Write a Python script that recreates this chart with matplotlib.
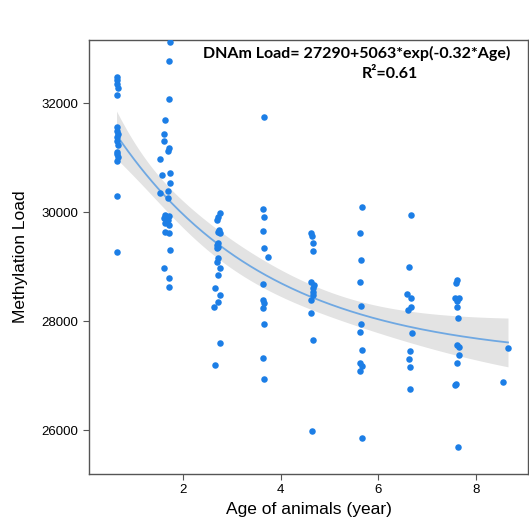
import numpy as np
import matplotlib.pyplot as plt

# fitted model shown on the chart
FIT_A = 27290
FIT_B = 5063
FIT_C = -0.32
R2 = 0.61

# age (years) and methylation load
age = [
    # ~0.65
    0.64, 0.65, 0.64, 0.66, 0.65, 0.65, 0.64, 0.66, 0.65, 0.64, 0.66, 0.65, 0.64, 0.66, 0.65, 0.64, 0.65,
    # ~1.7
    1.74, 1.71, 1.71, 1.63, 1.62, 1.62, 1.71, 1.70, 1.53, 1.57, 1.74, 1.74, 1.53, 1.70, 1.70,
    1.63, 1.72, 1.61, 1.70, 1.63, 1.72, 1.63, 1.72, 1.73, 1.62, 1.71, 1.71,
    # ~2.7
    2.76, 2.72, 2.69, 2.74, 2.71, 2.76, 2.71, 2.69, 2.72, 2.69, 2.72, 2.69, 2.76, 2.71, 2.66,
    2.76, 2.71, 2.64, 2.76, 2.66,
    # ~3.7
    3.67, 3.65, 3.66, 3.65, 3.67, 3.74, 3.65, 3.65, 3.67, 3.65, 3.67, 3.65, 3.67,
    # ~4.65
    4.63, 4.64, 4.66, 4.67, 4.63, 4.68, 4.67, 4.66, 4.66, 4.63, 4.63, 4.66, 4.64,
    # ~5.65
    5.66, 5.62, 5.65, 5.62, 5.65, 5.64, 5.62, 5.66, 5.63, 5.67, 5.62, 5.66,
    # ~6.65
    6.68, 6.64, 6.60, 6.68, 6.67, 6.61, 6.69, 6.65, 6.63, 6.66, 6.66,
    # ~7.6
    7.61, 7.60, 7.57, 7.61, 7.65, 7.62, 7.64, 7.62, 7.65, 7.66, 7.61, 7.60, 7.57, 7.64,
    # ~8.6
    8.66, 8.56,
]

load = [
    32472, 32422, 32349, 32270, 32147, 31565, 31492, 31431, 31371, 31308, 31229, 31106, 31059, 31004, 30941,
    30293, 29266,
    33125, 32776, 32068, 31688, 31431, 31303, 31169, 31125, 30967, 30684, 30721, 30526, 30343, 30391, 30257,
    29945, 29932, 29884, 29853, 29792, 29761, 29638, 29620, 29303, 28972, 28783, 28629,
    29976, 29914, 29853, 29670, 29638, 29609, 29437, 29394, 29363, 29334, 29150, 29088, 28967, 28844, 28600,
    28477, 28354, 28262, 27591, 27192,
    31738, 30049, 29914, 29651, 29334, 29180, 28673, 28385, 28324, 28233, 27939, 27315, 26930,
    29609, 29560, 29437, 29290, 28721, 28660, 28600, 28532, 28477, 28385, 28152, 27651, 25987,
    30097, 29609, 29119, 28710, 28280, 27945, 27792, 27470, 27234, 27180, 27088, 25858,
    29945, 28985, 28490, 28416, 28262, 28201, 27774, 27448, 27295, 27160, 26746,
    28752, 28691, 28416, 28370, 28427, 28251, 28049, 27559, 27517, 27376, 27224, 26844, 26825, 25693,
    27510, 26875,
]

x_ticks = [2, 4, 6, 8]
y_ticks = [26000, 28000, 30000, 32000]

POINT_COLOR = '#1c7ee6'
LINE_COLOR = '#6fa8e2'
BAND_COLOR = '#e3e3e3'


def model(x):
    return FIT_A + FIT_B * np.exp(FIT_C * x)


def confidence_band(x, y, grid):
    # delta method around the given parameters
    resid = y - model(x)
    s2 = np.sum(resid ** 2) / (len(x) - 3)
    J = np.column_stack([np.ones_like(x), np.exp(FIT_C * x), FIT_B * x * np.exp(FIT_C * x)])
    cov = s2 * np.linalg.inv(J.T @ J)
    Jg = np.column_stack([np.ones_like(grid), np.exp(FIT_C * grid), FIT_B * grid * np.exp(FIT_C * grid)])
    se = np.sqrt(np.sum((Jg @ cov) * Jg, axis=1))
    return 1.96 * se


x = np.array(age)
y = np.array(load)
grid = np.linspace(x.min(), x.max(), 200)
fit = model(grid)
ci = confidence_band(x, y, grid)

plt.rc('font', family=['Liberation Sans', 'DejaVu Sans'])

fig = plt.figure(figsize=(5.29, 5.28), dpi=100)
ax = fig.add_axes([89 / 529, 1 - 474 / 528, 439 / 529, 434 / 528])

ax.fill_between(grid, fit - ci, fit + ci, color=BAND_COLOR, lw=0, zorder=1)
ax.plot(grid, fit, color=LINE_COLOR, lw=1.3, zorder=2)
ax.scatter(x, y, s=22, color=POINT_COLOR, lw=0, zorder=3)

ax.set_xlim(0.076, 9.07)
ax.set_ylim(25193, 33156)
ax.set_xticks(x_ticks)
ax.set_yticks(y_ticks)
ax.tick_params(labelsize=9.5, length=4, color='#555555')
for s in ax.spines.values():
    s.set_color('#555555')
    s.set_linewidth(1.0)

ax.set_xlabel('Age of animals (year)', fontsize=12.5, labelpad=4)
ax.set_ylabel('Methylation Load', fontsize=12.5, labelpad=10)

ax.text(0.26, 0.970, 'DNAm Load= %d+%d*exp(%.2f*Age)' % (FIT_A, FIT_B, FIT_C),
        transform=ax.transAxes, fontsize=11.5, fontweight='bold', family=['Lato', 'DejaVu Sans'],
        va='center', ha='left')
ax.text(0.622, 0.922, 'R²=%.2f' % R2, transform=ax.transAxes, fontsize=11.5, fontweight='bold',
        family=['Lato', 'DejaVu Sans'], va='center', ha='left')

fig.savefig('out.png', dpi=100)
